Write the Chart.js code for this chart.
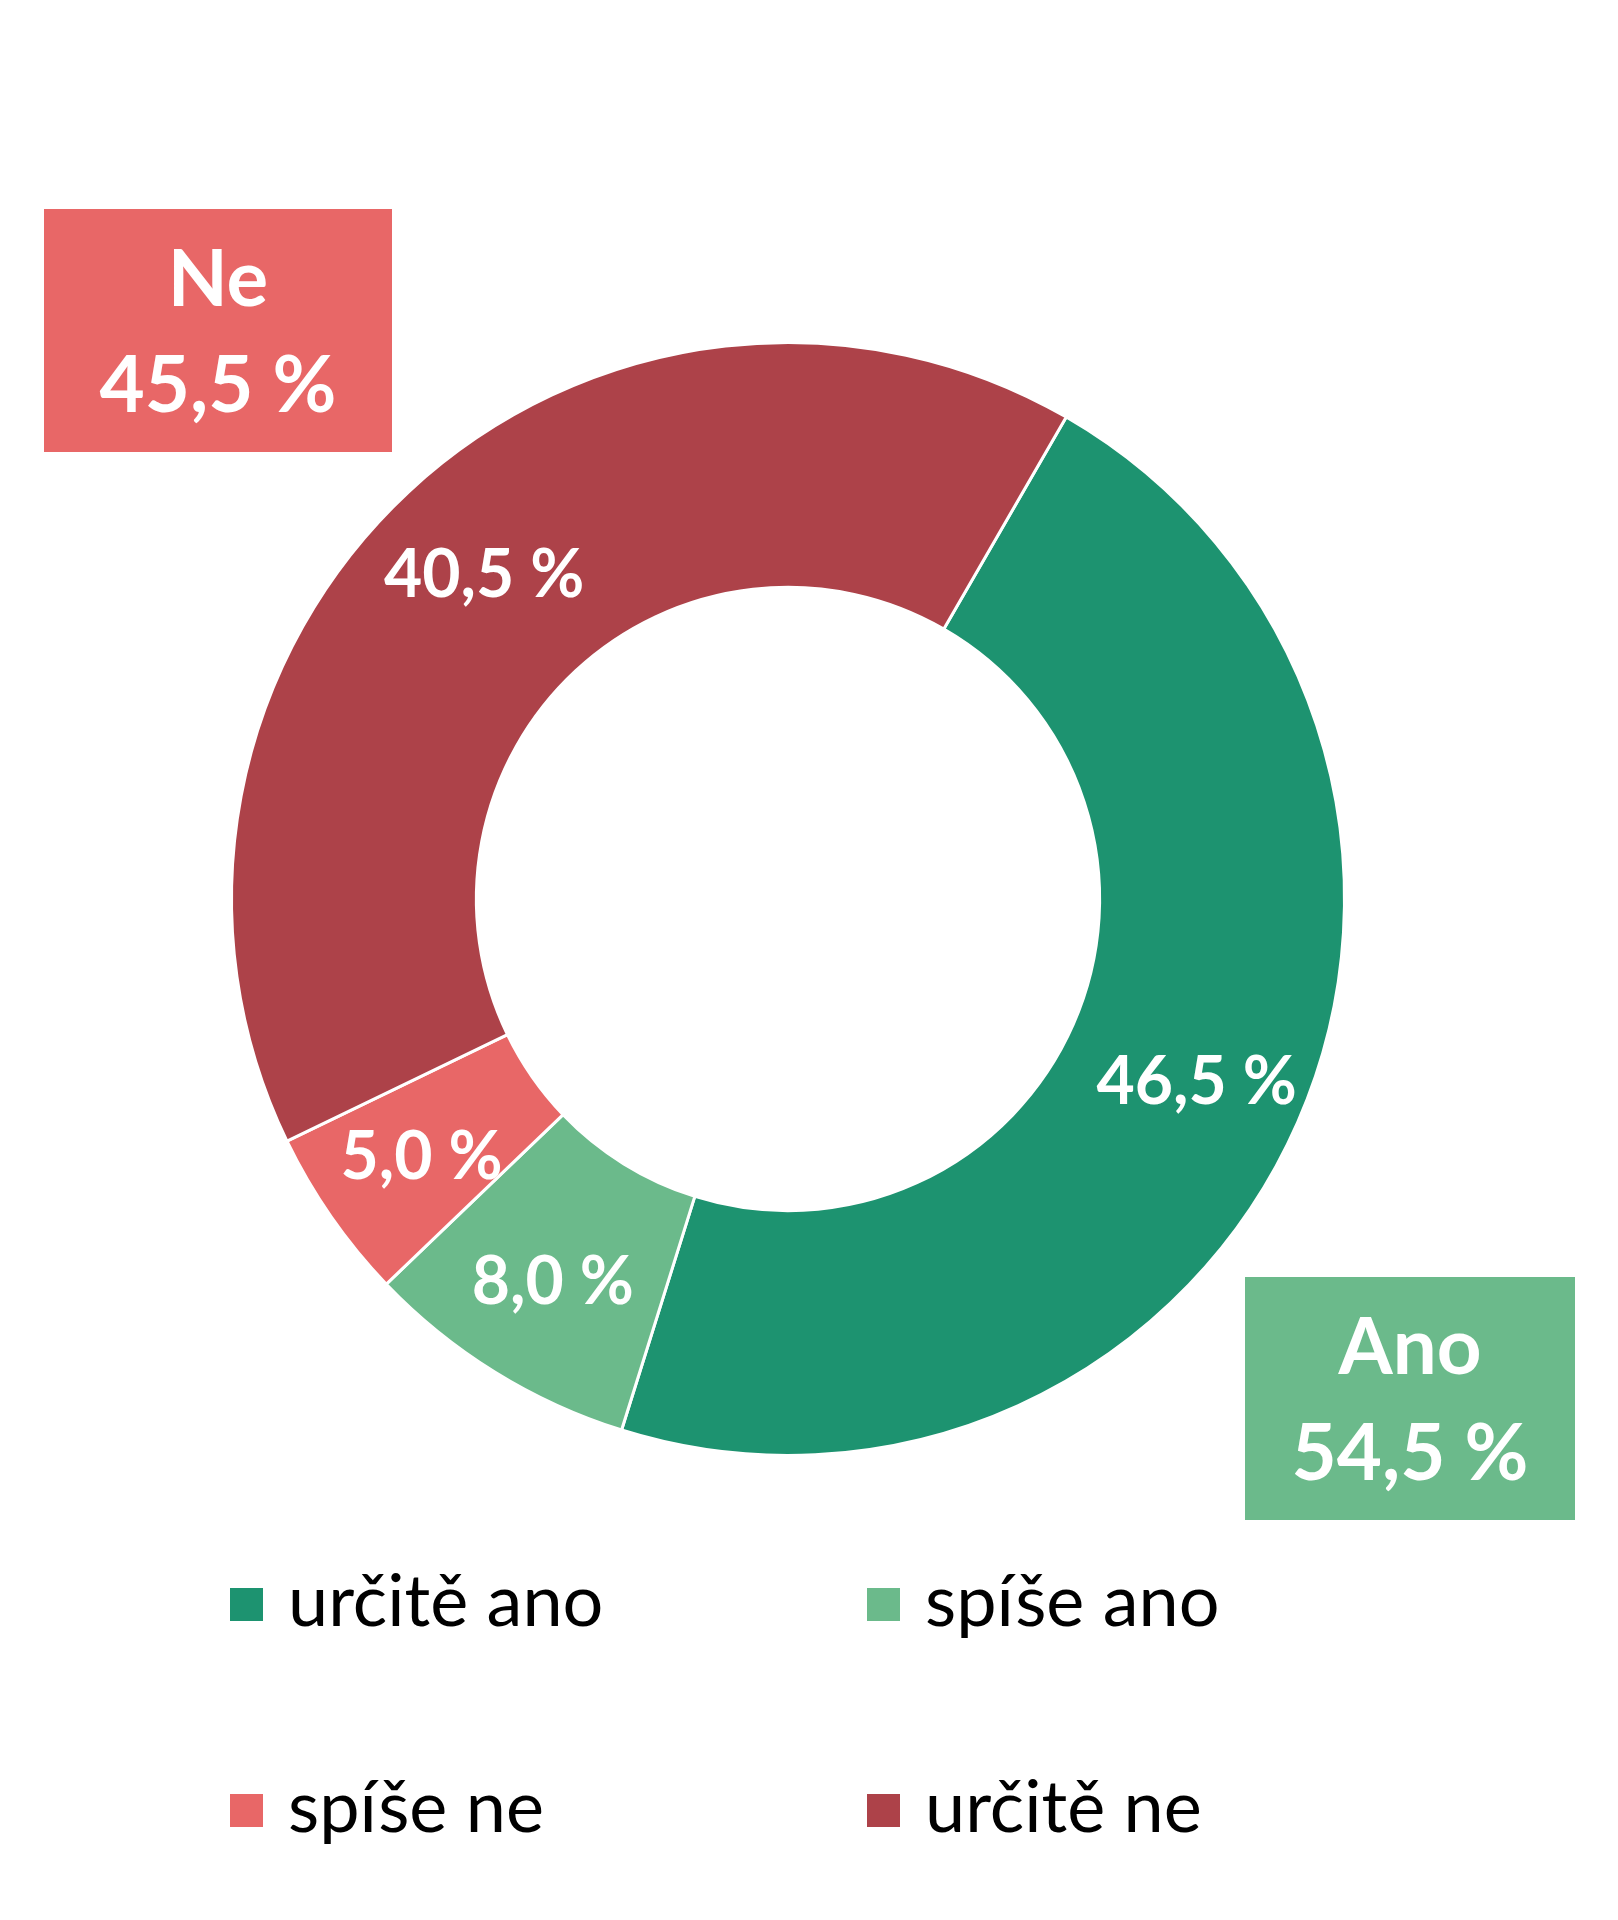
<!DOCTYPE html>
<html>
<head>
<meta charset="utf-8">
<script src="https://cdn.jsdelivr.net/npm/chart.js@4.4.1/dist/chart.umd.min.js"></script>
<style>
  html, body { margin: 0; padding: 0; background: #fff; }
  #wrap { position: relative; width: 1618px; height: 1920px; }
</style>
</head>
<body>
<div id="wrap"><canvas id="myChart" width="1618" height="1920"></canvas></div>
<script>
// data
const labels = ['určitě ano', 'spíše ano', 'spíše ne', 'určitě ne'];
const values = [46.5, 8.0, 5.0, 40.5];
const colors = ['#1D9370', '#6BBA8B', '#E86767', '#AD4249'];
const groupNames = ['Ano', 'Ne'];
const groupMembers = [[0, 1], [2, 3]];

function fmt(v) {
  return v.toFixed(1).replace('.', ',') + ' %';
}

const FONT = 'Lato, "Open Sans", sans-serif';

// value labels on the ring, a bit outside the middle of each arc
const sliceLabels = {
  id: 'sliceLabels',
  afterDatasetsDraw(chart) {
    const ctx = chart.ctx;
    const meta = chart.getDatasetMeta(0);
    ctx.save();
    ctx.fillStyle = '#fff';
    ctx.font = 'bold 66px ' + FONT;
    ctx.textAlign = 'center';
    ctx.textBaseline = 'middle';
    meta.data.forEach(function(arc, i) {
      const a = (arc.startAngle + arc.endAngle) / 2;
      const r = arc.innerRadius + (arc.outerRadius - arc.innerRadius) * 0.55;
      ctx.fillText(fmt(values[i]), arc.x + Math.cos(a) * r, arc.y + Math.sin(a) * r + 4);
    });
    ctx.restore();
  }
};

// "Ano" / "Ne" summary boxes and the legend
const extras = {
  id: 'extras',
  afterDraw(chart) {
    const ctx = chart.ctx;
    ctx.save();
    const boxes = [
      {g: 0, x: 1245, y: 1277, w: 330, h: 243, color: colors[1]},
      {g: 1, x: 44, y: 209, w: 348, h: 243, color: colors[2]}
    ];
    boxes.forEach(function(b) {
      const sum = groupMembers[b.g].reduce(function(s, i) { return s + values[i]; }, 0);
      ctx.fillStyle = b.color;
      ctx.fillRect(b.x, b.y, b.w, b.h);
      ctx.fillStyle = '#fff';
      ctx.font = 'bold 78px ' + FONT;
      ctx.textAlign = 'center';
      ctx.textBaseline = 'middle';
      ctx.fillText(groupNames[b.g], b.x + b.w / 2, b.y + 72);
      ctx.fillText(fmt(sum), b.x + b.w / 2, b.y + 178);
    });

    const colX = [230, 867];
    const rowY = [1604, 1810];
    ctx.font = '72px ' + FONT;
    ctx.textAlign = 'left';
    ctx.textBaseline = 'alphabetic';
    labels.forEach(function(lab, i) {
      const x = colX[i % 2];
      const y = rowY[Math.floor(i / 2)];
      ctx.fillStyle = colors[i];
      ctx.fillRect(x, y - 16, 33, 33);
      ctx.fillStyle = '#000';
      ctx.fillText(lab, x + 58, y + 22);
    });
    ctx.restore();
  }
};

const myChart = new Chart(document.getElementById('myChart'), {
  type: 'doughnut',
  data: {
    labels: labels,
    datasets: [{
      data: values,
      backgroundColor: colors,
      borderColor: '#fff',
      borderWidth: 3
    }]
  },
  options: {
    responsive: false,
    animation: false,
    events: [],
    rotation: 30,
    cutout: '56%',
    layout: {
      padding: {left: 230, right: 272, top: 341, bottom: 463}
    },
    plugins: {
      legend: {display: false},
      tooltip: {enabled: false}
    }
  },
  plugins: [sliceLabels, extras]
});
</script>
</body>
</html>
